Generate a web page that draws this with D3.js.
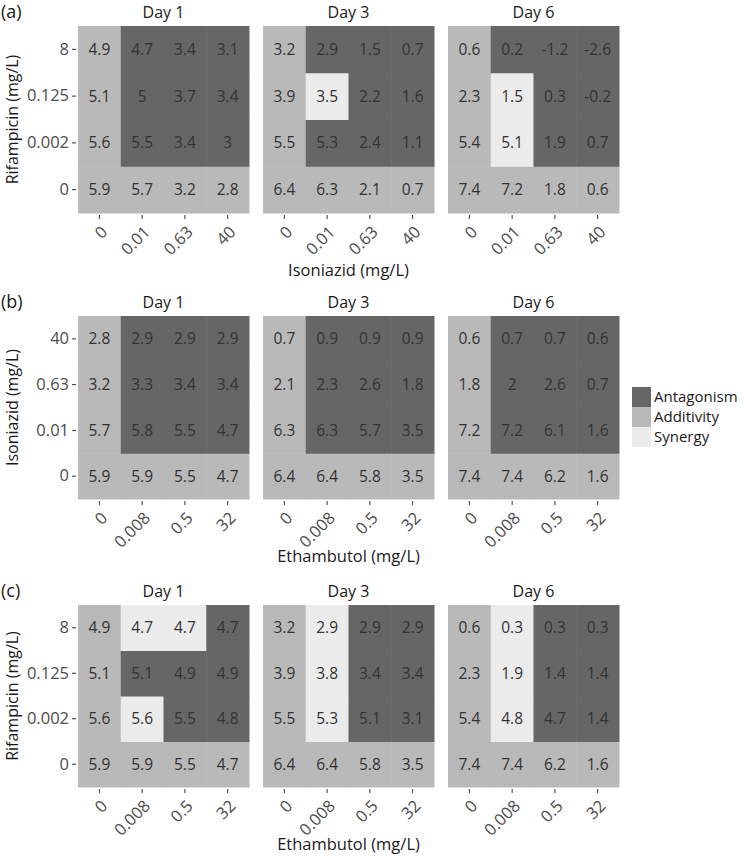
<!DOCTYPE html>
<html><head><meta charset="utf-8">
<script src="https://cdn.jsdelivr.net/npm/d3@7"></script>
<style>
body{margin:0;background:#fff;}
svg text{font-family:"Open Sans",sans-serif;}
</style></head>
<body><svg id="chart" width="745" height="857"></svg>
<script>
// ---------- data ----------
const days = ["Day 1", "Day 3", "Day 6"];
const rifampicinConc = ["0", "0.002", "0.125", "8"];
const isoniazidConc = ["0", "0.01", "0.63", "40"];
const ethambutolConc = ["0", "0.008", "0.5", "32"];
const interactionTypes = ["Antagonism", "Additivity", "Synergy"];
const interactionCodes = ["A", "D", "S"];

// rows ordered by y concentration ascending (bottom row first)
// (a) Rifampicin (y) x Isoniazid (x)
const aDay1 = [[5.9,5.7,3.2,2.8],[5.6,5.5,3.4,3],[5.1,5,3.7,3.4],[4.9,4.7,3.4,3.1]];
const aDay3 = [[6.4,6.3,2.1,0.7],[5.5,5.3,2.4,1.1],[3.9,3.5,2.2,1.6],[3.2,2.9,1.5,0.7]];
const aDay6 = [[7.4,7.2,1.8,0.6],[5.4,5.1,1.9,0.7],[2.3,1.5,0.3,-0.2],[0.6,0.2,-1.2,-2.6]];
const aDay1Int = ["DDDD","DAAA","DAAA","DAAA"];
const aDay3Int = ["DDDD","DAAA","DSAA","DAAA"];
const aDay6Int = ["DDDD","DSAA","DSAA","DAAA"];

// (b) Isoniazid (y) x Ethambutol (x)
const bDay1 = [[5.9,5.9,5.5,4.7],[5.7,5.8,5.5,4.7],[3.2,3.3,3.4,3.4],[2.8,2.9,2.9,2.9]];
const bDay3 = [[6.4,6.4,5.8,3.5],[6.3,6.3,5.7,3.5],[2.1,2.3,2.6,1.8],[0.7,0.9,0.9,0.9]];
const bDay6 = [[7.4,7.4,6.2,1.6],[7.2,7.2,6.1,1.6],[1.8,2,2.6,0.7],[0.6,0.7,0.7,0.6]];
const bDay1Int = ["DDDD","DAAA","DAAA","DAAA"];
const bDay3Int = ["DDDD","DAAA","DAAA","DAAA"];
const bDay6Int = ["DDDD","DAAA","DAAA","DAAA"];

// (c) Rifampicin (y) x Ethambutol (x)
const cDay1 = [[5.9,5.9,5.5,4.7],[5.6,5.6,5.5,4.8],[5.1,5.1,4.9,4.9],[4.9,4.7,4.7,4.7]];
const cDay3 = [[6.4,6.4,5.8,3.5],[5.5,5.3,5.1,3.1],[3.9,3.8,3.4,3.4],[3.2,2.9,2.9,2.9]];
const cDay6 = [[7.4,7.4,6.2,1.6],[5.4,4.8,4.7,1.4],[2.3,1.9,1.4,1.4],[0.6,0.3,0.3,0.3]];
const cDay1Int = ["DDDD","DSAA","DAAA","DSSA"];
const cDay3Int = ["DDDD","DSAA","DSAA","DSAA"];
const cDay6Int = ["DDDD","DSAA","DSAA","DSAA"];

const panelLabels = ["(a)", "(b)", "(c)"];
const yTitles = ["Rifampicin (mg/L)", "Isoniazid (mg/L)", "Rifampicin (mg/L)"];
const xTitles = ["Isoniazid (mg/L)", "Ethambutol (mg/L)", "Ethambutol (mg/L)"];

// ---------- layout ----------
const svg = d3.select("#chart");
const fill = d3.scaleOrdinal().domain(interactionCodes).range(["#666666", "#b9b9b9", "#ebebeb"]);

const rowsDef = [
  {label: panelLabels[0], yCats: rifampicinConc, xCats: isoniazidConc, yTitle: yTitles[0], xTitle: xTitles[0],
   vals: [aDay1, aDay3, aDay6], ints: [aDay1Int, aDay3Int, aDay6Int], top: 26, bottom: 213},
  {label: panelLabels[1], yCats: isoniazidConc, xCats: ethambutolConc, yTitle: yTitles[1], xTitle: xTitles[1],
   vals: [bDay1, bDay3, bDay6], ints: [bDay1Int, bDay3Int, bDay6Int], top: 316, bottom: 499},
  {label: panelLabels[2], yCats: rifampicinConc, xCats: ethambutolConc, yTitle: yTitles[2], xTitle: xTitles[2],
   vals: [cDay1, cDay3, cDay6], ints: [cDay1Int, cDay3Int, cDay6Int], top: 605, bottom: 787}
];
const panelX = [78, 263, 448];
const panelW = 171;

rowsDef.forEach((r) => {
  const g = svg.append("g");
  const y = d3.scaleBand().domain(r.yCats).range([r.bottom, r.top]);
  // panel label
  g.append("text").attr("x", 1).attr("y", r.top - 8).attr("font-size", 18).attr("fill", "#1a1a1a").text(r.label);
  days.forEach((day, di) => {
    const x = d3.scaleBand().domain(r.xCats).range([panelX[di], panelX[di] + panelW]);
    const cells = [];
    r.vals[di].forEach((row, ri) => row.forEach((v, ci) => {
      cells.push({x: r.xCats[ci], y: r.yCats[ri], v: v, t: r.ints[di][ri][ci]});
    }));
    const pg = g.append("g");
    pg.selectAll("rect").data(cells).join("rect")
      .attr("x", d => x(d.x)).attr("y", d => y(d.y))
      .attr("width", x.bandwidth() + 0.5).attr("height", y.bandwidth() + 0.5)
      .attr("fill", d => fill(d.t));
    pg.selectAll("text.val").data(cells).join("text").attr("class", "val")
      .attr("x", d => x(d.x) + x.bandwidth() / 2).attr("y", d => y(d.y) + y.bandwidth() / 2)
      .attr("dy", "0.36em").attr("text-anchor", "middle").attr("font-size", 15.5).attr("fill", "#333")
      .text(d => String(d.v));
    // strip title
    g.append("text").attr("x", panelX[di] + panelW / 2).attr("y", r.top - 8)
      .attr("text-anchor", "middle").attr("font-size", 16).attr("fill", "#1a1a1a").text(day);
    // x axis
    const xa = g.append("g").attr("transform", `translate(0,${r.bottom + 2})`)
      .call(d3.axisBottom(x).tickSize(4).tickSizeOuter(0));
    xa.select(".domain").remove();
    xa.selectAll(".tick line").attr("stroke", "#333");
    xa.selectAll(".tick text").attr("font-size", 16.5).attr("fill", "#4d4d4d")
      .attr("text-anchor", "end").attr("dy", null).attr("y", null)
      .attr("transform", "translate(9,18) rotate(-45)");
  });
  // y axis (first panel only)
  const ya = g.append("g").attr("transform", `translate(${panelX[0] - 2},0)`)
    .call(d3.axisLeft(y).tickSize(4).tickPadding(3).tickSizeOuter(0));
  ya.select(".domain").remove();
  ya.selectAll(".tick line").attr("stroke", "#333");
  ya.selectAll(".tick text").attr("font-size", 16.5).attr("fill", "#4d4d4d");
  // y title
  g.append("text").attr("transform", `translate(18,${(r.top + r.bottom) / 2}) rotate(-90)`)
    .attr("text-anchor", "middle").attr("font-size", 16).attr("fill", "#1a1a1a").text(r.yTitle);
  // x title
  g.append("text").attr("x", panelX[1] + panelW / 2).attr("y", r.bottom + 63)
    .attr("text-anchor", "middle").attr("font-size", 16.5).attr("fill", "#1a1a1a").text(r.xTitle);
});

// legend
const leg = svg.append("g").attr("transform", "translate(632,387)");
const legItems = leg.selectAll("g").data(interactionTypes).join("g")
  .attr("transform", (d, i) => `translate(0,${i * 20})`);
legItems.append("rect").attr("width", 19).attr("height", 20).attr("fill", (d, i) => fill(interactionCodes[i]));
legItems.append("text").attr("x", 22).attr("y", 10).attr("dy", "0.35em")
  .attr("font-size", 15).attr("fill", "#1a1a1a").text(d => d);
</script></body></html>
